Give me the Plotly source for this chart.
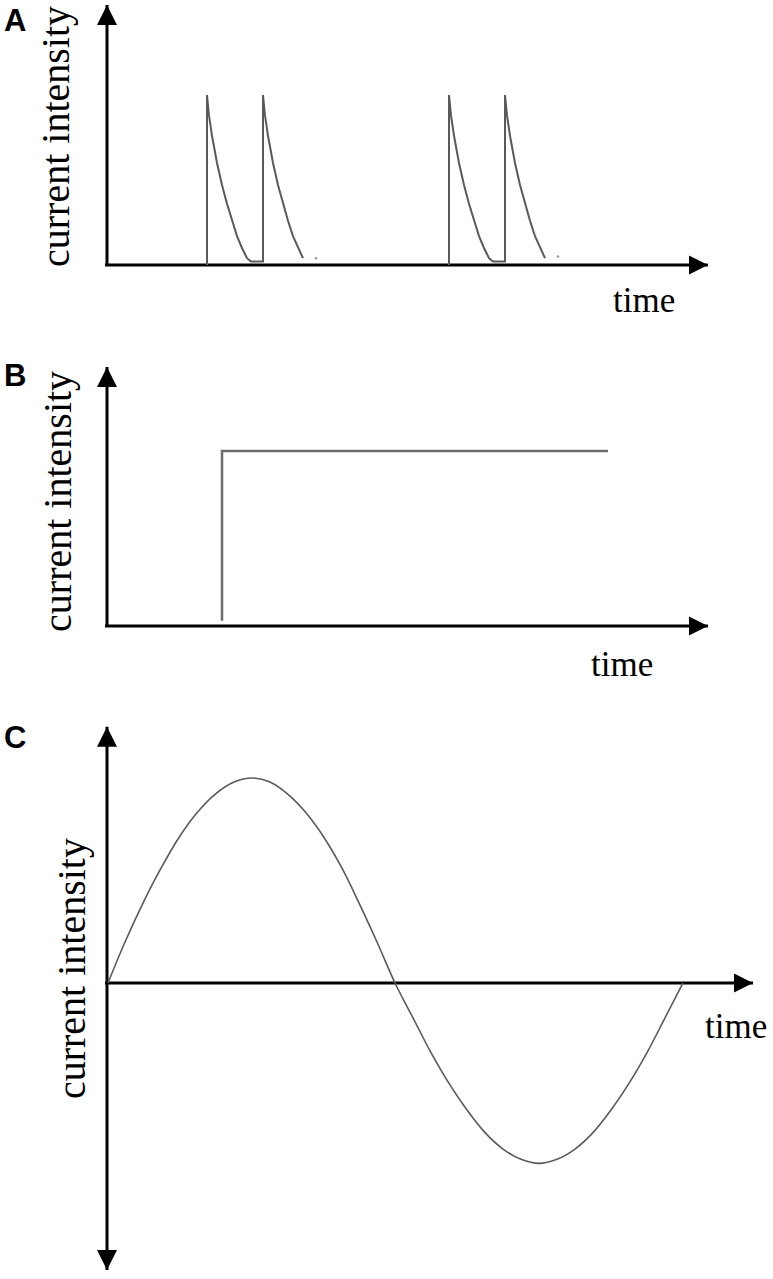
"""Schematic current waveforms: pulsed, direct and alternating current."""

import plotly.graph_objects as go

# ---- data (time in arbitrary units, intensity normalised) ----
# A: pulsed current, pulses come in pairs
pulse_onsets = [10.0, 15.6, 34.2, 39.8]
decay_dt = [0.0, 0.2, 0.5, 1.0, 1.5, 2.0, 2.5, 3.0, 3.5, 4.0, 4.4]
decay_val = [1.0, 0.88, 0.76, 0.60, 0.47, 0.36, 0.26, 0.17, 0.10, 0.04, 0.02]
residue_t = [20.9, 45.1]
residue_val = [0.04, 0.05]

# B: direct current switched on
dc_t = [11.5, 11.5, 50.1]
dc_val = [0.03, 1.0, 1.0]

# C: alternating current, one period
ac_t = [0.1, 1.8, 3.6, 5.4, 7.2, 9.0, 10.8, 12.7, 14.5, 16.3, 18.1, 19.9, 21.7,
        23.5, 25.3, 27.0, 28.8, 30.6, 32.4, 34.2, 36.0, 37.8, 39.6, 41.4, 43.2,
        45.0, 46.8, 48.6, 50.4, 52.2, 54.0, 55.8, 57.6]
ac_val = [0.0, 0.20, 0.39, 0.56, 0.71, 0.83, 0.92, 0.98, 1.0, 0.98, 0.92, 0.83,
          0.71, 0.56, 0.38, 0.20, 0.0, -0.17, -0.34, -0.49, -0.62, -0.73, -0.81,
          -0.86, -0.88, -0.86, -0.81, -0.73, -0.62, -0.49, -0.34, -0.17, 0.0]

AXIS_COLOR = "black"
CURVE_COLOR = "#5a5a5a"
SERIF = "Liberation Serif, Times New Roman, serif"
W, H = 773, 1279

fig = go.Figure()


def add_axes(fig, n, x_tip, y_tip, y_bottom=None):
    xa, ya = ("x", "y") if n == 1 else (f"x{n}", f"y{n}")
    y0 = 0 if y_bottom is None else y_bottom
    fig.add_trace(go.Scatter(x=[0, 0], y=[y0, y_tip], mode="lines", cliponaxis=False,
                             line=dict(color=AXIS_COLOR, width=3), xaxis=xa, yaxis=ya))
    fig.add_trace(go.Scatter(x=[-0.2, x_tip], y=[0, 0], mode="lines", cliponaxis=False,
                             line=dict(color=AXIS_COLOR, width=3), xaxis=xa, yaxis=ya))
    fig.add_trace(go.Scatter(x=[0], y=[y_tip], mode="markers", xaxis=xa, yaxis=ya, cliponaxis=False,
                             marker=dict(symbol="arrow-up", size=20, color=AXIS_COLOR)))
    fig.add_trace(go.Scatter(x=[x_tip], y=[0], mode="markers", xaxis=xa, yaxis=ya, cliponaxis=False,
                             marker=dict(symbol="arrow-right", size=19, color=AXIS_COLOR)))
    if y_bottom is not None:
        fig.add_trace(go.Scatter(x=[0], y=[y_bottom], mode="markers", xaxis=xa, yaxis=ya,
                                 cliponaxis=False,
                                 marker=dict(symbol="arrow-down", size=20, color=AXIS_COLOR)))


# ---- panel A ----
add_axes(fig, 1, 60.1, 1.53)
for first, second in [(pulse_onsets[0], pulse_onsets[1]), (pulse_onsets[2], pulse_onsets[3])]:
    xs = [first, first] + [first + d for d in decay_dt[1:]] + [second, second]
    ys = [0.0, 1.0] + decay_val[1:] + [decay_val[-1], 1.0]
    xs += [second + d for d in decay_dt[1:-1]]
    ys += decay_val[1:-1]
    fig.add_trace(go.Scatter(x=xs, y=ys, mode="lines", xaxis="x", yaxis="y",
                             line=dict(color=CURVE_COLOR, width=2)))
fig.add_trace(go.Scatter(x=residue_t, y=residue_val, mode="markers", xaxis="x", yaxis="y",
                         marker=dict(size=2.5, color="#999999")))

# ---- panel B ----
add_axes(fig, 2, 60.1, 1.48)
fig.add_trace(go.Scatter(x=dc_t, y=dc_val, mode="lines", xaxis="x2", yaxis="y2",
                         line=dict(color="#6e6e6e", width=2.5)))

# ---- panel C ----
add_axes(fig, 3, 64.6, 1.25, y_bottom=-1.40)
fig.add_trace(go.Scatter(x=ac_t, y=ac_val, mode="lines", xaxis="x3", yaxis="y3",
                         line=dict(color=CURVE_COLOR, width=1.6, shape="spline")))

# ---- text ----
ylabels = [("x", "y", -5.1, 0.753), ("x2", "y2", -4.9, 0.709), ("x3", "y3", -3.6, 0.068)]
for xr, yr, xx, yy in ylabels:
    fig.add_annotation(x=xx, y=yy, xref=xr, yref=yr, text="current intensity", textangle=-90,
                       showarrow=False, font=dict(family=SERIF, size=40, color="black"))
time_labels = [("x", "y", 53.7, -0.21), ("x2", "y2", 51.5, -0.22), ("x3", "y3", 62.9, -0.21)]
for xr, yr, xx, yy in time_labels:
    fig.add_annotation(x=xx, y=yy, xref=xr, yref=yr, text="time", showarrow=False,
                       font=dict(family=SERIF, size=35, color="black"))
for letter, py in [("A", 20), ("B", 375), ("C", 737)]:
    fig.add_annotation(x=15 / W, y=1 - py / H, xref="paper", yref="paper",
                       text=f"<b>{letter}</b>", showarrow=False, xanchor="center", yanchor="middle",
                       font=dict(family="Liberation Sans, Arial, sans-serif", size=31, color="black"))

hidden = dict(visible=False, showgrid=False, zeroline=False, fixedrange=True)
fig.update_layout(
    width=W, height=H, margin=dict(l=0, r=0, t=0, b=0),
    plot_bgcolor="white", paper_bgcolor="white", showlegend=False,
    xaxis=dict(hidden, range=[-10.7, 66.6], domain=[0, 1], anchor="y"),
    yaxis=dict(hidden, range=[-0.3824, 1.5588], domain=[1 - 330 / H, 1], anchor="x"),
    xaxis2=dict(hidden, range=[-10.7, 66.6], domain=[0, 1], anchor="y2"),
    yaxis2=dict(hidden, range=[-0.4229, 1.6914], domain=[1 - 700 / H, 1 - 330 / H], anchor="x2"),
    xaxis3=dict(hidden, range=[-10.7, 66.6], domain=[0, 1], anchor="y3"),
    yaxis3=dict(hidden, range=[-1.444, 1.3805], domain=[0, 1 - 700 / H], anchor="x3"),
)

# drop the default body margin so the figure sits at the page's top-left corner
fig.write_html("out.html", config={"displayModeBar": False},
               post_script="document.body.style.margin='0';"
                           "document.body.style.overflow='hidden';")
